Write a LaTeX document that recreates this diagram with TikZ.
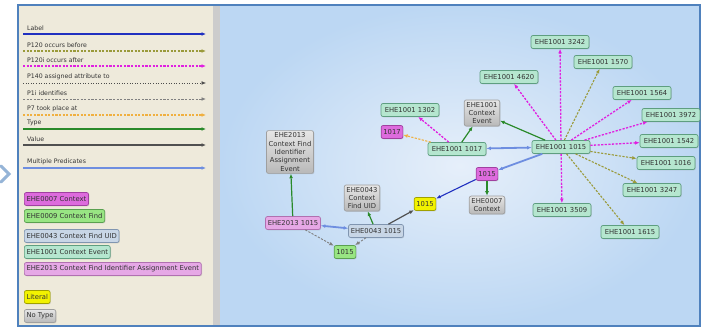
\documentclass[tikz,border=0pt]{standalone}
\usepackage{fontspec}
\setmainfont{DejaVu Sans}
\usetikzlibrary{arrows.meta,shadows}
\definecolor{frameblue}{HTML}{4F81BD}
\definecolor{panel}{HTML}{EEEADB}
\definecolor{canvasin}{HTML}{E6EFFA}
\definecolor{canvasout}{HTML}{BCD7F3}
\definecolor{labelblue}{HTML}{2030C0}
\definecolor{oliveedge}{HTML}{9A9A3A}
\definecolor{magentaedge}{HTML}{E020E0}
\definecolor{orangeedge}{HTML}{F0B040}
\definecolor{typegreen}{HTML}{2A8A2A}
\definecolor{valuegray}{HTML}{505050}
\definecolor{multiblue}{HTML}{6E8EE0}
\definecolor{mintfill}{HTML}{B5E6CF}
\definecolor{mintdraw}{HTML}{5E9E80}
\definecolor{magfill}{HTML}{DD6BDD}
\definecolor{magdraw}{HTML}{A040A0}
\definecolor{greenfill}{HTML}{98E583}
\definecolor{greendraw}{HTML}{5AA050}
\definecolor{uidfill}{HTML}{C8D6E6}
\definecolor{uiddraw}{HTML}{8095B0}
\definecolor{pinkfill}{HTML}{E6A8E6}
\definecolor{pinkdraw}{HTML}{B070B0}
\definecolor{litfill}{HTML}{F2F200}
\definecolor{litdraw}{HTML}{A0A000}

\begin{document}
\begin{tikzpicture}[x=1pt,y=-1pt,
  box/.style={rounded corners=2pt,draw,line width=0.7pt,inner sep=2.2pt,
    minimum height=13pt,font=\fontsize{6.8}{8}\selectfont,text=black!80,
    drop shadow={opacity=0.25,shadow xshift=0.8pt,shadow yshift=-0.8pt}},
  ev/.style={box,fill=mintfill,draw=mintdraw,minimum width=58pt},
  ctx/.style={box,fill=magfill,draw=magdraw},
  find/.style={box,fill=greenfill,draw=greendraw},
  uid/.style={box,fill=uidfill,draw=uiddraw},
  ident/.style={box,fill=pinkfill,draw=pinkdraw},
  lit/.style={box,fill=litfill,draw=litdraw},
  notype/.style={box,top color=gray!20,bottom color=gray!55,draw=gray!75,align=center,
    font=\fontsize{6.8}{8.3}\selectfont},
  edge/.style={-{Latex[length=4.5pt,width=3.8pt]}},
  label/.style={edge,draw=labelblue,line width=1.1pt},
  before/.style={edge,draw=oliveedge,line width=1.1pt,dash pattern=on 2.2pt off 1.4pt},
  after/.style={edge,draw=magentaedge,line width=1.3pt,dash pattern=on 2.2pt off 1.4pt},
  assigned/.style={edge,draw=black!70,line width=0.6pt,dotted},
  identifies/.style={edge,draw=gray,line width=0.9pt,dash pattern=on 2.2pt off 1.4pt},
  tookplace/.style={edge,draw=orangeedge,line width=1.1pt,dash pattern=on 2.2pt off 1.4pt},
  typeedge/.style={edge,draw=typegreen,line width=1.2pt},
  valueedge/.style={edge,draw=valuegray,line width=1.2pt},
  multi/.style={edge,draw=multiblue,line width=1.8pt}]
  \useasboundingbox (0,0) rectangle (702,328);
  % panels
  \fill[white] (0,0) rectangle (702,328);
  \fill[panel] (18,5) rectangle (213,326);
  \fill[gray!40] (213,5) rectangle (220,326);
  \shade[inner color=canvasin,outer color=canvasout] (220,5) rectangle (700,326);
  \draw[frameblue,line width=1.2pt] (18,326) -- (18,5) -- (700,5) -- (700,326) -- cycle;
  \draw[frameblue!60,line width=3pt,line cap=round] (1,166) -- (9,174) -- (1,182);

  % legend of edges
  \foreach \y/\txt/\sty in {34/Label/label, 51/P120 occurs before/before,
      66/P120i occurs after/after, 83/P140 assigned attribute to/assigned,
      99/P1i identifies/identifies, 115/P7 took place at/tookplace,
      129/Type/typeedge, 145/Value/valueedge, 168/Multiple Predicates/multi}{
    \node[anchor=south west,inner sep=1pt,font=\fontsize{6.2}{7}\selectfont,text=black!80]
      at (26,\y-2) {\txt};
    \draw[style=\sty] (23,\y) -- (206,\y);
  }

  % legend of node types
  \node[ctx,anchor=west] (k0007) at (24,199) {EHE0007 Context};
  \node[find,anchor=west] (k0009) at (24,216) {EHE0009 Context Find};
  \node[uid,anchor=west] (k0043) at (24,236) {EHE0043 Context Find UID};
  \node[ev,anchor=west,minimum width=0pt] (k1001) at (24,252) {EHE1001 Context Event};
  \node[ident,anchor=west] (k2013) at (24,269) {EHE2013 Context Find Identifier Assignment Event};
  \node[lit,anchor=west] (klit) at (24,297) {Literal};
  \node[notype,anchor=west] (knot) at (24,316) {No Type};

  % graph
  \node[ev] (n3242) at (560,42) {EHE1001 3242};
  \node[ev] (n1570) at (603,62) {EHE1001 1570};
  \node[ev] (n4620) at (509,77) {EHE1001 4620};
  \node[ev] (n1564) at (642,93) {EHE1001 1564};
  \node[ev] (n3972) at (671,115) {EHE1001 3972};
  \node[ev] (n1302) at (410,110) {EHE1001 1302};
  \node[ev] (n1017) at (457,149) {EHE1001 1017};
  \node[ev] (n1015) at (561,147) {EHE1001 1015};
  \node[ev] (n1542) at (669,141) {EHE1001 1542};
  \node[ev] (n1016) at (666,163) {EHE1001 1016};
  \node[ev] (n3247) at (652,190) {EHE1001 3247};
  \node[ev] (n3509) at (562,210) {EHE1001 3509};
  \node[ev] (n1615) at (630,232) {EHE1001 1615};
  \node[notype] (t1001) at (482,113) {EHE1001\\Context\\Event};
  \node[ctx] (c1017) at (392,132) {1017};
  \node[ctx] (c1015) at (487,174) {1015};
  \node[notype] (t0007) at (487,205) {EHE0007\\Context};
  \node[lit] (lit) at (425,204) {1015};
  \node[notype] (t0043) at (362,198) {EHE0043\\Context\\Find UID};
  \node[notype] (t2013) at (290,152) {EHE2013\\Context Find\\Identifier\\Assignment\\Event};
  \node[ident] (e2013) at (293,223) {EHE2013 1015};
  \node[uid] (e0043) at (376,231) {EHE0043 1015};
  \node[find] (f1015) at (345,252) {1015};

  \draw[after] (n1015) -- (n4620);
  \draw[after] (n1015) -- (n3242);
  \draw[before] (n1015) -- (n1570);
  \draw[after] (n1015) -- (n1564);
  \draw[after] (n1015) -- (n3972);
  \draw[after] (n1015) -- (n1542);
  \draw[before] (n1015) -- (n1016);
  \draw[before] (n1015) -- (n3247);
  \draw[before] (n1015) -- (n1615);
  \draw[after] (n1015) -- (n3509);
  \draw[typeedge] (n1015) -- (t1001);
  \draw[typeedge] (n1017) -- (t1001);
  \draw[multi,{Latex[length=4.5pt,width=3.8pt]}-{Latex[length=4.5pt,width=3.8pt]}] (n1017) -- (n1015);
  \draw[after] (n1017) -- (n1302);
  \draw[tookplace] (n1017) -- (c1017);
  \draw[multi] (n1015) -- (c1015);
  \draw[label] (c1015) -- (lit);
  \draw[typeedge] (c1015) -- (t0007);
  \draw[valueedge] (e0043) -- (lit);
  \draw[typeedge] (e0043) -- (t0043);
  \draw[typeedge] (e2013) -- (t2013);
  \draw[multi,{Latex[length=4.5pt,width=3.8pt]}-{Latex[length=4.5pt,width=3.8pt]}] (e2013) -- (e0043);
  \draw[identifies] (e2013) -- (f1015);
  \draw[identifies] (e0043) -- (f1015);
\end{tikzpicture}
\end{document}
